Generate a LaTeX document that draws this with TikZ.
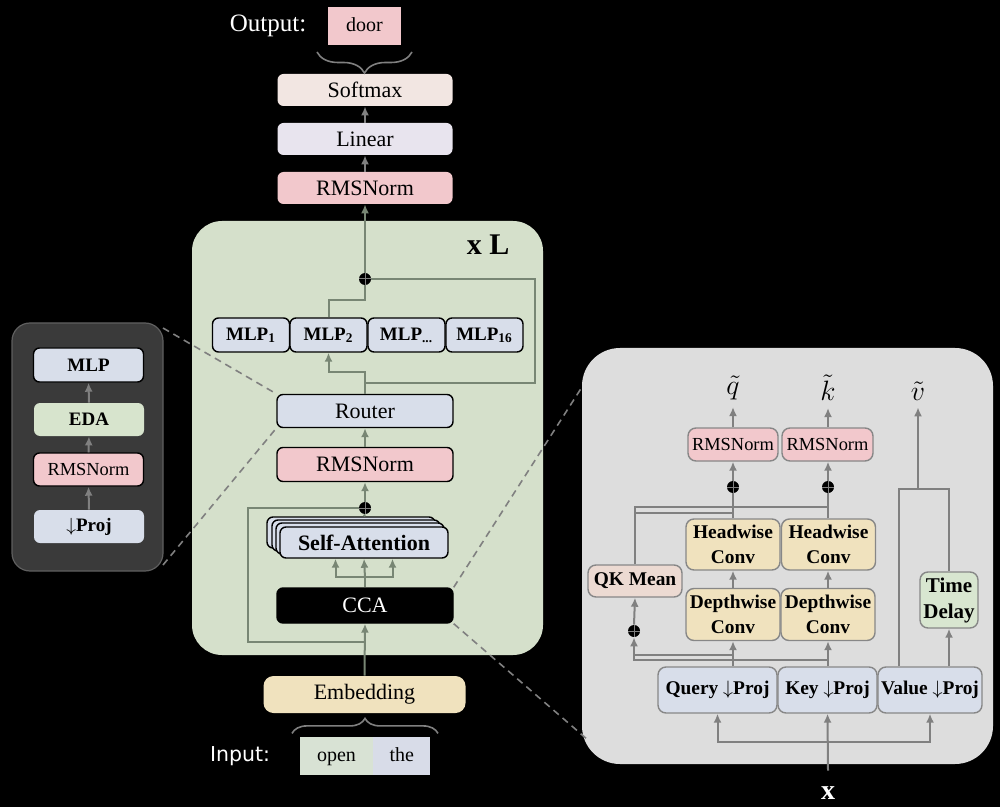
\documentclass[tikz,border=0pt]{standalone}
\usepackage{fix-cm}
\usepackage{fontspec}
\setmainfont{Liberation Serif}
\newfontfamily\inputfont{DejaVu Sans}
\usepackage{xcolor}
\usetikzlibrary{arrows.meta,calc,shadows,decorations.pathreplacing}
\definecolor{cpink}{RGB}{242,200,204}
\definecolor{cblue}{RGB}{216,222,234}
\definecolor{ctan}{RGB}{240,226,190}
\definecolor{csoft}{RGB}{242,230,226}
\definecolor{clin}{RGB}{232,228,238}
\definecolor{cgbox}{RGB}{213,224,203}
\definecolor{ceda}{RGB}{215,228,205}
\definecolor{crpan}{RGB}{221,221,221}
\definecolor{clpan}{RGB}{58,58,58}
\definecolor{clpanb}{RGB}{95,95,95}
\definecolor{cqk}{RGB}{236,218,210}
\definecolor{ctd}{RGB}{216,230,208}
\definecolor{copen}{RGB}{216,226,212}
\definecolor{cthe}{RGB}{216,220,232}
\definecolor{cline}{RGB}{128,128,128}
\definecolor{cgline}{RGB}{120,134,116}
\definecolor{cbord}{RGB}{135,135,135}
\newcommand{\fsize}[1]{\fontsize{#1}{#1}\selectfont}
\tikzset{
	panelbox/.style={inner sep=0pt, outer sep=0pt},
	headblk/.style={rounded corners=3pt, inner sep=0pt, minimum width=87.5pt, minimum height=16pt, font=\fsize{11pt}},
	blk/.style={rounded corners=3pt, draw=black, line width=0.7pt, inner sep=0pt, font=\fsize{11pt}},
	mlpblk/.style={blk, minimum width=38.5pt, minimum height=17pt, fill=cblue, font=\bfseries\fsize{9.5pt}},
	lblk/.style={rounded corners=3pt, inner sep=0pt, minimum width=55pt, minimum height=16.5pt, font=\bfseries\fsize{9.5pt}},
	rblk/.style={rounded corners=4pt, draw=cbord, line width=0.7pt, inner sep=0pt, align=center, font=\bfseries\fontsize{9.7pt}{12.5pt}\selectfont},
	wordbox/.style={inner sep=0pt, outer sep=0pt, minimum height=19pt, text height=1.5ex, text depth=0.3ex, font=\fsize{10pt}},
	conn/.style={draw=cline, line width=1pt},
	gconn/.style={draw=cgline, line width=1pt},
	conarr/.style={conn, -{Latex[length=4.5pt,width=4pt]}},
	garr/.style={gconn, -{Latex[length=4.5pt,width=4pt]}},
	plusnode/.style={circle, fill=black, minimum size=6pt, inner sep=0pt,
			path picture={\draw[cline, line width=0.5pt] (path picture bounding box.north) -- (path picture bounding box.south)
				(path picture bounding box.east) -- (path picture bounding box.west);}},
	dsh/.style={draw=cline, line width=0.8pt, dash pattern=on 3.5pt off 2.5pt},
	brc/.style={draw=cline, line width=0.8pt, decorate, decoration={brace, amplitude=#1}}
}
\begin{document}
\begin{tikzpicture}[x=0.5pt,y=-0.5pt]
	\fill[black] (0,0) rectangle (1000,807);
	\useasboundingbox (0,0) rectangle (1000,807);

	% panels
	\node[panelbox, fill=cgbox, rounded corners=15pt, minimum width=175.5pt, minimum height=217pt] (gbox) at (367.5,438) {};
	\node[panelbox, fill=clpan, draw=clpanb, line width=0.6pt, rounded corners=9pt, minimum width=75.5pt, minimum height=124pt] (lpan) at (87.5,447) {};
	\node[panelbox, fill=crpan, rounded corners=19pt, minimum width=205.5pt, minimum height=208pt] (rpan) at (787.5,556) {};
	\node[font=\bfseries\fsize{15pt}] (xl) at (488,245) {x L};

	% output
	\node[text=white, font=\fsize{12.5pt}] (outl) at (268,26) {Output:};
	\node[wordbox, fill=cpink, minimum width=36.5pt] (door) at (364.5,26) {door};
	\node[headblk, fill=csoft] (soft) at (365,90) {Softmax};
	\node[headblk, fill=clin] (lin) at (365,139) {Linear};
	\node[headblk, fill=cpink] (rms1) at (365,188) {RMSNorm};

	% layer
	\node[plusnode] (pt) at (365,279) {};
	\node[mlpblk] (m1) at (251,335) {MLP\textsubscript{1}};
	\node[mlpblk] (m2) at (328.5,335) {MLP\textsubscript{2}};
	\node[mlpblk] (m3) at (406.5,335) {MLP\textsubscript{...}};
	\node[mlpblk] (m4) at (484.5,335) {MLP\textsubscript{16}};
	\node[blk, fill=cblue, minimum width=88pt, minimum height=16.5pt] (router) at (365,411) {Router};
	\node[blk, fill=cpink, minimum width=88pt, minimum height=17pt] (rms2) at (365,464.5) {RMSNorm};
	\node[plusnode] (pb) at (365,508) {};
	\node[blk, fill=cblue, minimum width=84pt, minimum height=15.5pt, font=\bfseries\fsize{11pt},
		copy shadow={shadow xshift=-6.5pt, shadow yshift=5pt, draw=black, fill=cblue},
		copy shadow={shadow xshift=-4pt, shadow yshift=3.5pt, draw=black, fill=cblue},
		copy shadow={shadow xshift=-2pt, shadow yshift=2pt, draw=black, fill=cblue}] (sa) at (364,542.5) {Self-Attention};
	\node[blk, fill=black, text=white, minimum width=88pt, minimum height=17.5pt] (cca) at (365,605.5) {CCA};

	% input
	\node[headblk, fill=ctan, rounded corners=5pt, minimum width=101pt, minimum height=18.5pt] (emb) at (364.5,694.5) {Embedding};
	\node[text=white, font=\inputfont\fsize{10.25pt}] (inl) at (240,756) {Input:};
	\node[wordbox, fill=copen, minimum width=36.5pt] (w1) at (336.5,756) {open};
	\node[wordbox, fill=cthe, minimum width=28.5pt] (w2) at (401.75,756) {the};

	\draw[brc=10.5pt] ([xshift=23.75pt,yshift=-3.5pt]door.south) -- ([xshift=-23.75pt,yshift=-3.5pt]door.south);
	\draw[brc=7.5pt] ([xshift=-36.25pt,yshift=-10pt]emb.south) -- ([xshift=36.75pt,yshift=-10pt]emb.south);

	\draw[garr] (emb.north) -- (cca.south);
	\path (cca.south) ++(0,18) coordinate (cj);
	\path (pb) ++(-117,0) coordinate (lj);
	\draw[gconn] (cj) -| (lj) -- (pb.west);
	\path (cca.north) ++(0,-10) coordinate (sj);
	\draw[gconn] (cca.north) -- (sj);
	\draw[garr] (sj) -| ([xshift=-14.25pt]sa.south);
	\draw[garr] (sj) -| ([xshift=14.25pt]sa.south);
	\draw[garr] (sj) -- (sa.south);
	\draw[gconn] ([yshift=5pt]sa.north) -- (pb.south);
	\draw[garr] (pb.north) -- (rms2.south);
	\draw[garr] (rms2.north) -- (router.south);
	\path (router.north) ++(0,-11) coordinate (rj);
	\path (router.north) ++(0,-22) coordinate (mj);
	\draw[garr] (router.north) -- (mj) -| (m2.south);
	\path (pt) ++(170,0) coordinate (rr);
	\draw[gconn] (rj) -| (rr) -- (pt.east);
	\path (pt) ++(0,21) coordinate (pj);
	\draw[gconn] (m2.north) |- (pj) -- (pt.south);
	\draw[garr] (pt.north) -- (rms1.south);
	\draw[conarr] (rms1.north) -- (lin.south);
	\draw[conarr] (lin.north) -- (soft.south);

	% MLP detail
	\node[lblk, fill=cblue, draw=black, line width=0.7pt, minimum height=17pt] (lm) at (88.5,365) {MLP};
	\node[lblk, fill=ceda] (eda) at (89,419.5) {EDA};
	\node[lblk, fill=cpink, draw=black, line width=0.7pt, font=\fsize{9.2pt}] (lr) at (88.5,469.5) {RMSNorm};
	\node[lblk, fill=cblue] (lp) at (89,526.5) {$\downarrow$Proj};
	\draw[conarr] (eda.north) -- (lm.south);
	\draw[conarr] (lr.north) -- (eda.south);
	\draw[conarr] (lp.north) -- (lr.south);

	% CCA detail
	\node[font=\fsize{14pt}] (qt) at (733,388) {$\tilde{q}$};
	\node[font=\fsize{14pt}] (kt) at (828,388) {$\tilde{k}$};
	\node[font=\fsize{14pt}] (vt) at (918,391) {$\tilde{v}$};
	\node[rblk, fill=cpink, minimum width=45pt, minimum height=16.5pt, font=\fsize{9.2pt}] (rq) at (733,444.5) {RMSNorm};
	\node[rblk, fill=cpink, minimum width=45.5pt, minimum height=16.5pt, font=\fsize{9.2pt}] (rk) at (827.5,444.5) {RMSNorm};
	\node[plusnode] (pq) at (733,487) {};
	\node[plusnode] (pk) at (828,487) {};
	\node[rblk, fill=ctan, minimum width=47pt, minimum height=25.5pt] (hq) at (733,544.5) {Headwise\\Conv};
	\node[rblk, fill=ctan, minimum width=47pt, minimum height=25.5pt] (hk) at (828.5,544.5) {Headwise\\Conv};
	\node[rblk, fill=ctan, minimum width=47pt, minimum height=26pt] (dq) at (733,614.5) {Depthwise\\Conv};
	\node[rblk, fill=ctan, minimum width=47pt, minimum height=26pt] (dk) at (828,614.5) {Depthwise\\Conv};
	\node[rblk, fill=cqk, minimum width=47pt, minimum height=16pt] (qm) at (635,581) {QK Mean};
	\node[plusnode] (pm) at (634,631) {};
	\node[rblk, fill=ctd, minimum width=29pt, minimum height=28pt, font=\bfseries\fontsize{10.5pt}{13pt}\selectfont] (td) at (949,600) {Time\\Delay};
	\node[rblk, fill=cblue, minimum width=59.5pt, minimum height=23pt] (qp) at (717.5,690) {Query $\downarrow$Proj};
	\node[rblk, fill=cblue, minimum width=49.5pt, minimum height=23pt] (kp) at (827.5,690) {Key $\downarrow$Proj};
	\node[rblk, fill=cblue, minimum width=52pt, minimum height=23pt] (vp) at (930,690) {Value $\downarrow$Proj};
	\node[text=white, font=\bfseries\fsize{14pt}] (xin) at (828,793) {x};

	\draw[conarr] (rq.north) -- (qt.south);
	\draw[conarr] (rk.north -| kt) -- (kt.south);
	\draw[conarr] (pq.north) -- (rq.south);
	\draw[conarr] (pk.north) -- (rk.south -| pk);
	\draw[conn] (hq.north) -- (pq.south);
	\draw[conn] (hk.north -| pk) -- (pk.south);
	\draw[conarr] (dq.north) -- (hq.south);
	\draw[conarr] (dk.north) -- (hk.south -| dk);
	\draw[conarr] (qp.north -| dq) -- (dq.south);
	\draw[conarr] (kp.north -| dk) -- (dk.south);
	\path (hk.north -| pk) ++(0,-11) coordinate (jk);
	\path (hq.north) ++(0,-5) coordinate (jq);
	\draw[conn] (qm.north) |- (jk);
	\draw[conn] (qm.north |- jq) -- (jq);
	\path (qp.north -| dq) ++(0,-11) coordinate (bq);
	\path (kp.north -| dk) ++(0,-6) coordinate (bk);
	\draw[conn] (bq) -- (bq -| pm);
	\draw[conarr] (bk) -| (pm.south);
	\draw[conarr] (pm.north) -- (qm.south);
	\draw[conarr] (td.south |- vp.north) -- (td.south);
	\path (vp.north west) ++(22,0) coordinate (vl);
	\path (td.north) ++(0,-82) coordinate (vj);
	\draw[conn] (vl) |- (vj) -- (td.north);
	\draw[conarr] (vj -| vt) -- (vt.south);
	\path (kp.south) ++(0,28) coordinate (xj);
	\path (xin.north) ++(0,-9) coordinate (xs);
	\draw[conarr] (xs) -- (kp.south);
	\draw[conarr] (xj) -| (qp.south);
	\draw[conarr] (xj) -| (vp.south);

	% zoom lines
	\draw[dsh] ([yshift=-2.5pt]lpan.north east) -- (router.north west);
	\draw[dsh] ([yshift=3pt]lpan.south east) -- (router.south west);
	\draw[dsh] (cca.north east) -- ([yshift=-19.5pt]rpan.north west);
	\draw[dsh] (cca.south east) -- ([xshift=3pt,yshift=12pt]rpan.south west);
\end{tikzpicture}
\end{document}
